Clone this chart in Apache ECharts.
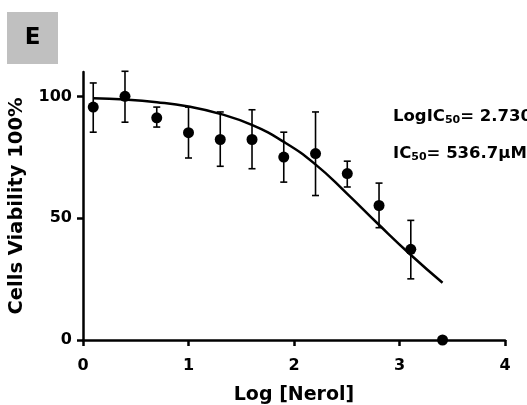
<!DOCTYPE html>
<html><head><meta charset="utf-8">
<script src="https://cdn.jsdelivr.net/npm/echarts@6/dist/echarts.min.js"></script>
<style>html,body{margin:0;padding:0;background:#fff}#c{width:527px;height:405px}</style>
</head><body><div id="c"></div>
<script>
// Data
const logConc   = [0.097, 0.398, 0.699, 1.000, 1.301, 1.602, 1.903, 2.204, 2.505, 2.806, 3.107, 3.408];
const viability = [95.6, 100.0, 91.2, 85.1, 82.3, 82.3, 75.1, 76.5, 68.3, 55.2, 37.2, 0.0];
const errUpper  = [105.5, 110.3, 95.6, 95.6, 93.6, 94.5, 85.3, 93.6, 73.4, 64.4, 49.1, 0.0];
const errLower  = [85.3, 89.4, 87.4, 74.7, 71.3, 70.3, 64.8, 59.3, 62.8, 46.1, 25.1, 0.0];
const fitX = [0.097, 0.4, 0.7, 1.0, 1.3, 1.6, 1.9, 2.2, 2.5, 2.8, 3.1, 3.408];
const fitY = [99.2, 98.7, 97.6, 95.8, 92.8, 88.3, 81.4, 72.2, 60.2, 47.5, 35.2, 23.5];
const xTicks = [0, 1, 2, 3, 4];
const yTicks = [0, 50, 100];
const xTitle = 'Log [Nerol]';
const yTitle = 'Cells Viability 100%';
const panelLabel = 'E';

const FONT = 'DejaVu Sans';
const chart = echarts.init(document.getElementById('c'), null, {renderer: 'canvas'});

const errData = logConc.map((x, i) => [x, errLower[i], errUpper[i]]);
const ptData = logConc.map((x, i) => [x, viability[i]]);
const fitData = fitX.map((x, i) => [x, fitY[i]]);

chart.setOption({
  animation: false,
  backgroundColor: '#fff',
  grid: {left: 83, right: 22, top: 72, bottom: 65, containLabel: false, outerBoundsMode: 'none'},
  xAxis: {
    type: 'value', min: xTicks[0], max: xTicks[xTicks.length - 1], interval: 1,
    splitLine: {show: false},
    axisLine: {show: true, onZero: false, lineStyle: {color: '#000', width: 2.5}},
    axisTick: {show: true, length: 6, lineStyle: {color: '#000', width: 2.5}},
    axisLabel: {color: '#000', fontFamily: FONT, fontWeight: 'bold', fontSize: 16, margin: 18},
    name: xTitle, nameLocation: 'middle', nameGap: 46,
    nameTextStyle: {color: '#000', fontFamily: FONT, fontWeight: 'bold', fontSize: 19}
  },
  yAxis: {
    type: 'value', min: 0, max: 110, interval: 50,
    splitLine: {show: false},
    axisLine: {show: true, onZero: false, lineStyle: {color: '#000', width: 2.5}},
    axisTick: {show: true, length: 6, customValues: yTicks, lineStyle: {color: '#000', width: 2.5}},
    axisLabel: {color: '#000', fontFamily: FONT, fontWeight: 'bold', fontSize: 16, margin: 11,
      customValues: yTicks,
      formatter: v => (yTicks.indexOf(v) >= 0 ? String(v) : '')},
    name: yTitle, nameLocation: 'middle', nameGap: 56,
    nameTextStyle: {color: '#000', fontFamily: FONT, fontWeight: 'bold', fontSize: 19.5}
  },
  series: [
    {
      type: 'line', data: fitData, smooth: true, symbol: 'none', z: 2,
      lineStyle: {color: '#000', width: 2.5}
    },
    {
      type: 'custom', data: errData, z: 3, clip: false,
      encode: {x: 0, y: [1, 2]},
      renderItem: function (params, api) {
        const x = api.value(0), lo = api.value(1), hi = api.value(2);
        if (hi === lo) return {type: 'group', children: []};
        const p1 = api.coord([x, hi]), p2 = api.coord([x, lo]);
        const w = 3.5, st = {stroke: '#000', lineWidth: 1.6};
        return {type: 'group', children: [
          {type: 'line', shape: {x1: p1[0], y1: p1[1], x2: p2[0], y2: p2[1]}, style: st},
          {type: 'line', shape: {x1: p1[0] - w, y1: p1[1], x2: p1[0] + w, y2: p1[1]}, style: st},
          {type: 'line', shape: {x1: p2[0] - w, y1: p2[1], x2: p2[0] + w, y2: p2[1]}, style: st}
        ]};
      }
    },
    {
      type: 'scatter', data: ptData, symbol: 'circle', symbolSize: 11, z: 4, clip: false,
      itemStyle: {color: '#000', opacity: 1}
    }
  ],
  graphic: [
    {type: 'rect', left: 7, top: 12, shape: {width: 51, height: 52}, style: {fill: '#c0c0c0'}},
    {type: 'text', x: 32.5, y: 38, style: {text: panelLabel, fill: '#000', font: 'bold 23px "DejaVu Sans"',
      align: 'center', verticalAlign: 'middle'}},
    {type: 'text', x: 393, y: 108, style: {
      text: '{m|LogIC}{s|50}{m|= 2.730}',
      rich: {
        m: {fontFamily: FONT, fontWeight: 'bold', fontSize: 16.5, lineHeight: 17.5, verticalAlign: 'top', fill: '#000'},
        s: {fontFamily: FONT, fontWeight: 'bold', fontSize: 11, lineHeight: 9, verticalAlign: 'bottom', fill: '#000'}
      }}},
    {type: 'text', x: 393, y: 144.8, style: {
      text: '{m|IC}{s|50}{m|= 536.7\u03bcM}',
      rich: {
        m: {fontFamily: FONT, fontWeight: 'bold', fontSize: 16.5, lineHeight: 17.5, verticalAlign: 'top', fill: '#000'},
        s: {fontFamily: FONT, fontWeight: 'bold', fontSize: 11, lineHeight: 9, verticalAlign: 'bottom', fill: '#000'}
      }}}
  ]
});
</script>
</body></html>
